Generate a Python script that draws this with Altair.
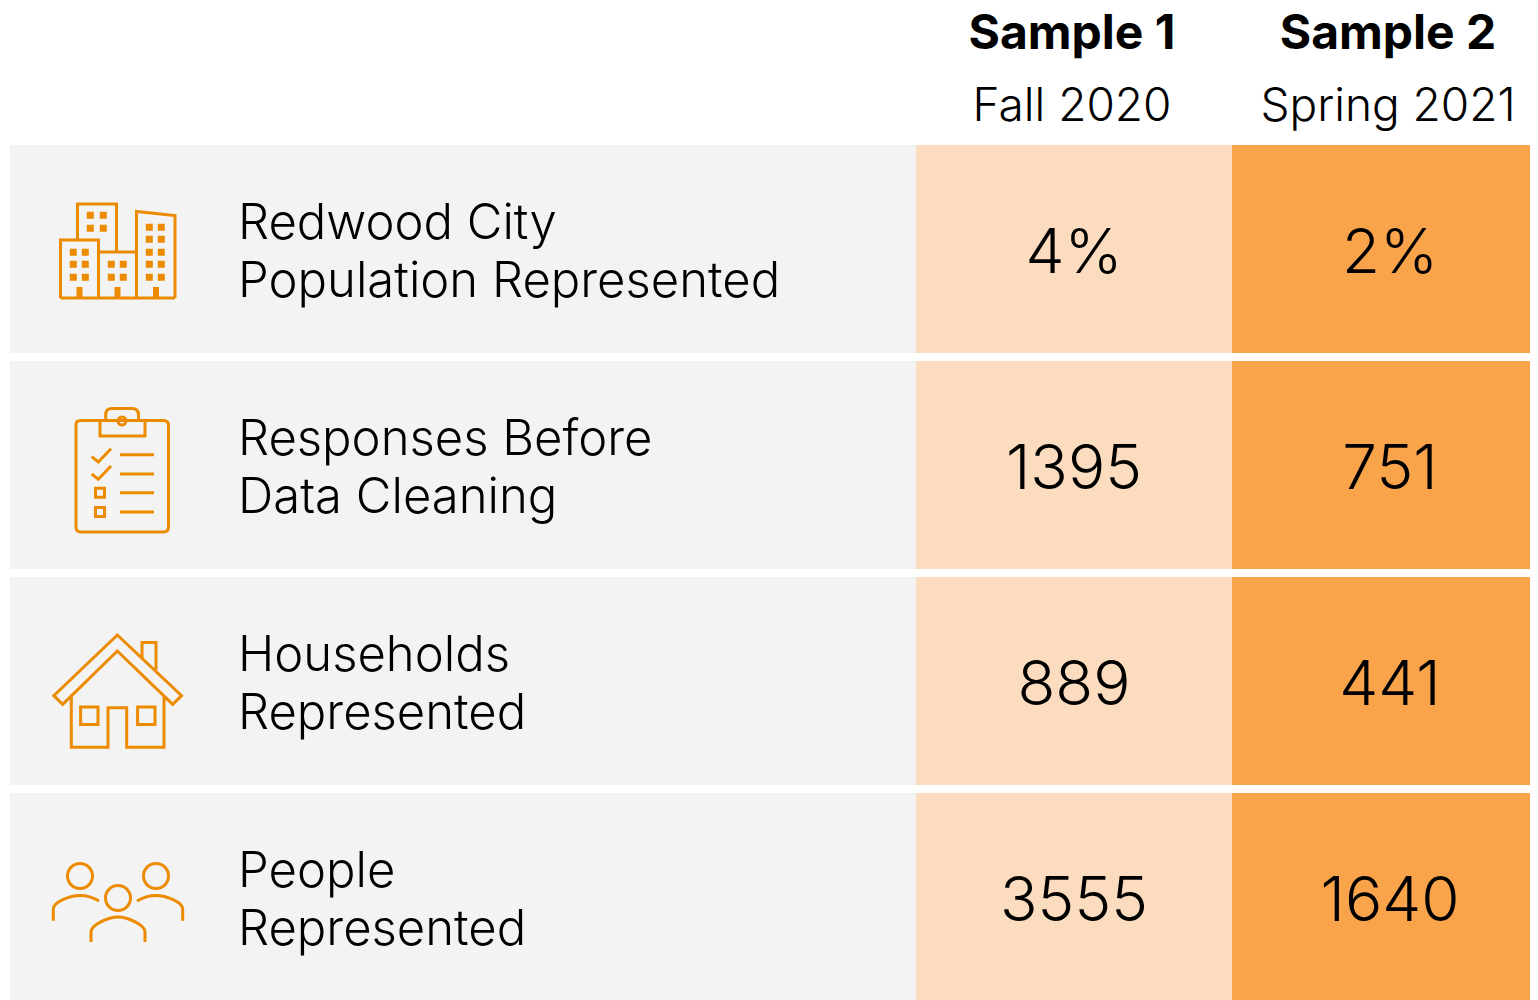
import altair as alt
import pandas as pd

row_names = ["city", "responses", "households", "people"]
row_labels = ["Redwood City\nPopulation Represented", "Responses Before\nData Cleaning",
              "Households\nRepresented", "People\nRepresented"]
sample_1_values = ["4%", "1395", "889", "3555"]
sample_2_values = ["2%", "751", "441", "1640"]
sample_titles = ["Sample 1", "Sample 2"]
sample_periods = ["Fall 2020", "Spring 2021"]

FONT = "Inter"
ORANGE = "#ED8B00"


def poly(points, cx, cy, closed=False):
    body = "L".join(f"{x - cx:.1f},{y - cy:.1f}" for x, y in points)
    return "M" + body + ("Z" if closed else "")


def box(x, y, half_w, half_h, cx, cy):
    return poly([(x - half_w, y - half_h), (x + half_w, y - half_h),
                 (x + half_w, y + half_h), (x - half_w, y + half_h)], cx, cy, True)


def ring(x, y, r, cx, cy):
    x0, y0 = x - cx, y - cy
    return (f"M{x0 - r:.1f},{y0:.1f}A{r},{r} 0 1 1 {x0 + r:.1f},{y0:.1f}"
            f"A{r},{r} 0 1 1 {x0 - r:.1f},{y0:.1f}Z")


def curve(start, segments, cx, cy):
    out = f"M{start[0] - cx:.1f},{start[1] - cy:.1f}"
    for seg in segments:
        if len(seg) == 1:
            out += f"L{seg[0][0] - cx:.1f},{seg[0][1] - cy:.1f}"
        else:
            out += "C" + " ".join(f"{p[0] - cx:.1f},{p[1] - cy:.1f}" for p in seg)
    return out


# Icons: drawn about their own centre, one path unit = one pixel at size=4
c = (118, 249)
city = "".join([
    poly([(77.5, 239), (77.5, 204), (116.5, 204), (116.5, 252)], *c),
    poly([(60.5, 298), (60.5, 240), (98.5, 240), (98.5, 298)], *c),
    poly([(98.5, 252), (136.5, 252)], *c),
    poly([(136.5, 298), (136.5, 211.5), (175, 215.5), (175, 298)], *c),
    poly([(60.5, 298), (175, 298)], *c),
])
city_fill = "".join(
    [box(x, y, 3.5, 3.5, *c) for x in (90.3, 103.3) for y in (215.3, 228.3)]
    + [box(x, y, 3.5, 3.5, *c) for x in (73.3, 85.3) for y in (252.3, 264.3, 277.3)]
    + [box(x, y, 3.5, 3.5, *c) for x in (111.3, 123.3) for y in (264.3, 277.3)]
    + [box(x, y, 3.5, 3.5, *c) for x in (149.3, 161.3) for y in (227.3, 239.3, 252.3, 264.3, 277.3)]
    + [box(x, 292.5, 3, 5.5, *c) for x in (79.5, 117.5, 156)]
)

c = (118, 465)
board = "".join([
    curve((81, 420.5), [[(76.5, 420.5), (76, 422), (76, 425.5)], [(76, 527)],
                        [(76, 530.5), (77.5, 532), (81, 532)], [(163.5, 532)],
                        [(167, 532), (168.5, 530.5), (168.5, 527)], [(168.5, 425.5)],
                        [(168.5, 422), (167, 420.5), (163.5, 420.5)], [(81, 420.5)]], *c),
    curve((100, 420.5), [[(100, 436)], [(145, 436)], [(145, 420.5)], [(138.5, 420.5)], [(138.5, 415)],
                         [(138.5, 410.5), (136, 408.5), (132, 408.5)], [(112, 408.5)],
                         [(108, 408.5), (105.7, 410.5), (105.7, 415)], [(105.7, 420.5)], [(100, 420.5)]], *c),
    ring(122, 421, 4, *c),
    poly([(91.7, 456.7), (98.3, 462), (111, 448.7)], *c),
    poly([(91.7, 474), (98.3, 479.3), (111, 466)], *c),
    poly([(120, 454.7), (154, 454.7)], *c),
    poly([(120, 474), (154, 474)], *c),
    poly([(120, 492.7), (154, 492.7)], *c),
    poly([(120, 512), (154, 512)], *c),
    box(100, 492.7, 4.5, 4.5, *c),
    box(100, 512, 4.5, 4.5, *c),
])

c = (118, 681)
house = "".join([
    poly([(117.3, 635), (53.8, 695.7), (62.7, 704.3), (117.3, 651), (172.7, 704.3), (181.6, 695.7)], *c, True),
    poly([(142, 659), (142, 642.5), (156, 642.5), (156, 670)], *c),
    poly([(71.3, 696), (71.3, 747.3), (108, 747.3), (108, 707.7), (126.7, 707.7),
          (126.7, 747.3), (164, 747.3), (164, 696)], *c),
    box(89.3, 715.7, 8.7, 8.7, *c),
    box(146.3, 715.7, 8.7, 8.7, *c),
])

c = (118, 897)
people = "".join([
    ring(80, 876, 12.5, *c),
    ring(156, 876, 12.5, *c),
    ring(118, 898, 12.5, *c),
    curve((53.3, 920.7), [[(53.3, 909)], [(53.3, 902), (70, 895.5), (80, 895.5)], [(87, 895.5), (94, 898), (99, 901)]], *c),
    curve((182.7, 920.7), [[(182.7, 909)], [(182.7, 902), (166, 895.5), (156, 895.5)], [(149, 895.5), (142, 898), (137, 901)]], *c),
    curve((91, 942), [[(91, 932)], [(91, 925), (108, 917), (118, 917)], [(128, 917), (145, 925), (145, 932)], [(145, 942)]], *c),
])
icon_paths = [city, board, house, people]

rows = pd.DataFrame({"row": row_names, "label": row_labels, "s1": sample_1_values, "s2": sample_2_values})
head = pd.DataFrame({"mid": [1.5, 2.5], "title": sample_titles, "period": sample_periods})

x_scale = alt.Scale(domain=[0, 1, 2, 3], range=[2, 908, 1224, 1540], nice=False, zero=False)
y_scale = alt.Scale(domain=row_names, range=[137, 993], paddingInner=8 / 216, paddingOuter=0)
Y = alt.Y("row:N", scale=y_scale, axis=None)


def cells(start, end, colour):
    return (alt.Chart(rows).transform_calculate(a=str(start), b=str(end))
            .mark_rect(clip=True, color=colour)
            .encode(x=alt.X("a:Q", scale=x_scale, axis=None), x2="b:Q", y=Y))


def values(field, mid):
    return (alt.Chart(rows).transform_calculate(m=str(mid))
            .mark_text(font=FONT, fontWeight=300, fontSize=62, color="#000000", align="center", dy=5)
            .encode(x=alt.X("m:Q", scale=x_scale, axis=None), y=Y, text=f"{field}:N"))


labels = (alt.Chart(rows)
          .mark_text(font=FONT, fontWeight=300, fontSize=49, color="#000000", align="left",
                     lineBreak="\n", lineHeight=58, dy=-25)
          .encode(x=alt.value(230), y=Y, text="label:N"))

icons = (alt.Chart(rows)
         .mark_point(filled=False, opacity=1, strokeWidth=3, size=4, color=ORANGE)
         .encode(x=alt.value(110), y=Y,
                 shape=alt.Shape("row:N", scale=alt.Scale(domain=row_names, range=icon_paths), legend=None)))

icon_fill = (alt.Chart(rows[rows["row"] == "city"])
             .mark_point(filled=True, opacity=1, size=4, color=ORANGE, strokeWidth=0, shape=city_fill)
             .encode(x=alt.value(110), y=Y))

titles = (alt.Chart(head)
          .mark_text(font=FONT, fontWeight=700, fontSize=48, color="#000000", align="center", dx=-2)
          .encode(x=alt.X("mid:Q", scale=x_scale, axis=None), y=alt.value(27), text="title:N"))
periods = (alt.Chart(head)
           .mark_text(font=FONT, fontWeight=300, fontSize=46, color="#000000", align="center", dx=-2)
           .encode(x=alt.X("mid:Q", scale=x_scale, axis=None), y=alt.value(99), text="period:N"))

chart = (alt.layer(cells(0, 1, "#F3F3F3"), cells(1, 2, "#FCDCBE"), cells(2, 3, "#F9A34B"),
                   values("s1", 1.5), values("s2", 2.5), labels, icons, icon_fill, titles, periods)
         .properties(width=1522, height=992, padding=0, background="#ffffff",
                     autosize=alt.AutoSizeParams(type="none"))
         .configure_view(stroke=None))

chart.save("out.html", embed_options={"renderer": "svg", "actions": False})
